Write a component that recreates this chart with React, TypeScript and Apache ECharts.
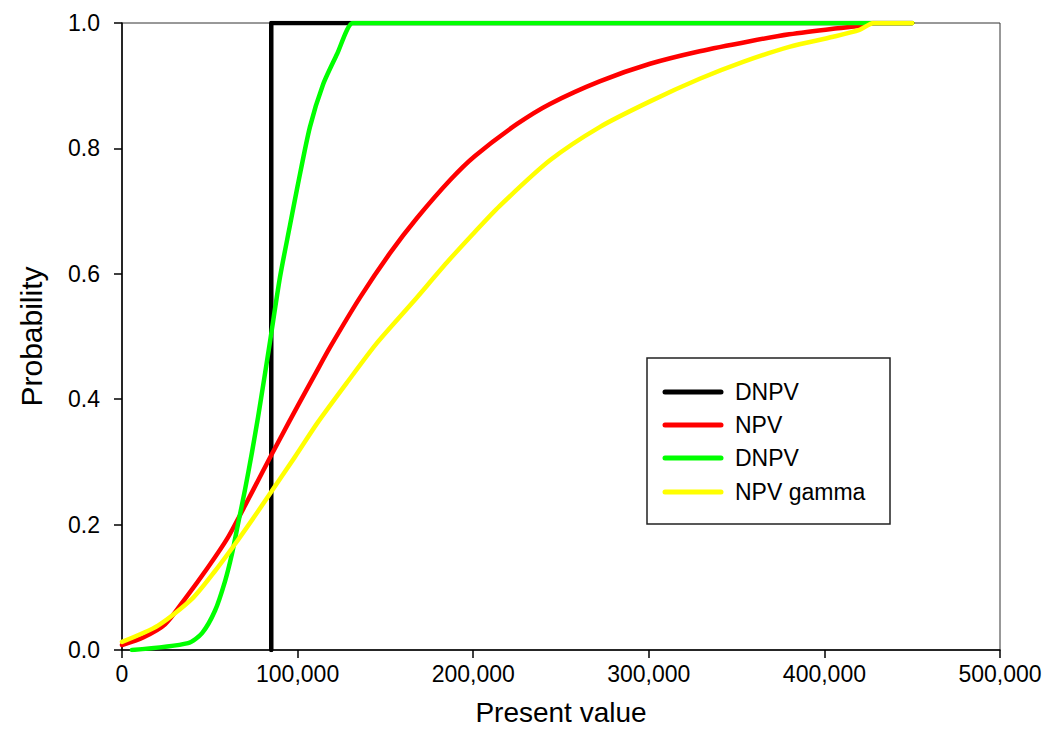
import React, { useEffect, useRef } from "react";
import * as echarts from "echarts";

const seriesNames = ["DNPV", "NPV", "DNPV", "NPV gamma"];
const seriesColors = ["#000000", "#FF0000", "#00FF00", "#FFFF00"];

const xTicks = [0, 100000, 200000, 300000, 400000, 500000];
const yTicks = [0, 0.2, 0.4, 0.6, 0.8, 1.0];

const dnpvBlack: [number, number][] = [
  [85000, 0], [85000, 1], [450000, 1],
];

const npvRed: [number, number][] = [
  [0, 0.008], [12000, 0.02], [24500, 0.041], [36000, 0.082], [49000, 0.132],
  [60000, 0.178], [70000, 0.23], [80000, 0.284], [90000, 0.337], [100000, 0.389],
  [110000, 0.44], [118500, 0.483], [135500, 0.562], [152600, 0.633], [168000, 0.689],
  [187000, 0.75], [201000, 0.788], [225000, 0.839], [243700, 0.871], [272000, 0.907],
  [300700, 0.935], [329000, 0.955], [357600, 0.971], [380000, 0.982], [405000, 0.991],
  [422000, 0.996], [428000, 1], [435000, 1], [450000, 1],
];

const dnpvGreen: [number, number][] = [
  [5700, 0], [37600, 0.011], [45600, 0.027], [53000, 0.063], [58700, 0.11],
  [62600, 0.153], [66000, 0.2], [70000, 0.255], [74000, 0.315], [77500, 0.372],
  [81000, 0.433], [84300, 0.492], [90000, 0.595], [95700, 0.678], [100000, 0.74],
  [107000, 0.834], [114500, 0.902], [122400, 0.95], [131500, 1], [138000, 1],
  [450000, 1],
];

const npvGamma: [number, number][] = [
  [0, 0.013], [20500, 0.039], [40000, 0.082], [53000, 0.126], [64400, 0.169],
  [75700, 0.214], [85400, 0.254], [98500, 0.308], [111000, 0.361], [128000, 0.426],
  [145000, 0.489], [165700, 0.555], [185000, 0.618], [200000, 0.664], [215000, 0.708],
  [243700, 0.781], [272000, 0.834], [300700, 0.875], [329000, 0.911], [353700, 0.938],
  [380000, 0.962], [405000, 0.978], [420000, 0.989], [428000, 1], [435000, 1],
  [450000, 1],
];

const allData = [dnpvBlack, npvRed, dnpvGreen, npvGamma];

const FONT = "'Liberation Sans', Arial, sans-serif";

export default function App() {
  const ref = useRef<HTMLDivElement>(null);
  useEffect(() => {
    if (!ref.current) return;
    document.body.style.margin = "0";
    const chart = echarts.init(ref.current, undefined, {
      renderer: "svg",
      width: 1063,
      height: 731,
    });

    const legendLeft = 647;
    const legendTop = 358;
    const rowYs = [392, 425, 458, 492];
    const legendGraphics: any[] = [
      {
        type: "rect",
        shape: { x: legendLeft, y: legendTop, width: 243, height: 166 },
        style: { fill: "#fff", stroke: "#222", lineWidth: 1.5 },
        z: 100,
      },
    ];
    seriesNames.forEach((name, i) => {
      legendGraphics.push({
        type: "line",
        shape: { x1: 665, y1: rowYs[i], x2: 721, y2: rowYs[i] },
        style: { stroke: seriesColors[i], lineWidth: 5, lineCap: "round" },
        z: 101,
      });
      legendGraphics.push({
        type: "text",
        x: 735,
        y: rowYs[i],
        style: {
          text: name,
          fill: "#000",
          font: `23px ${FONT}`,
          verticalAlign: "middle",
          align: "left",
        },
        z: 101,
      });
    });

    chart.setOption({
      animation: false,
      backgroundColor: "#fff",
      grid: {
        left: 122,
        right: 63,
        top: 23,
        bottom: 74,
        show: true,
        borderColor: "#333",
        borderWidth: 1,
        backgroundColor: "transparent",
      },
      xAxis: {
        type: "value",
        min: xTicks[0],
        max: xTicks[xTicks.length - 1],
        interval: 100000,
        name: "Present value",
        nameLocation: "middle",
        nameGap: 48,
        nameTextStyle: { fontSize: 28, color: "#000", fontFamily: FONT },
        axisLine: { show: true, onZero: false, lineStyle: { color: "#000", width: 1.5 } },
        axisTick: { show: true, inside: false, length: 8, lineStyle: { color: "#000", width: 1.5 } },
        axisLabel: {
          fontSize: 23,
          color: "#000",
          fontFamily: FONT,
          margin: 12,
          formatter: (v: number) => v.toLocaleString("en-US"),
        },
        splitLine: { show: false },
      },
      yAxis: {
        type: "value",
        min: yTicks[0],
        max: yTicks[yTicks.length - 1],
        interval: 0.2,
        name: "Probability",
        nameLocation: "middle",
        nameGap: 76,
        nameRotate: 90,
        nameTextStyle: { fontSize: 30, color: "#000", fontFamily: FONT },
        axisLine: { show: true, onZero: false, lineStyle: { color: "#000", width: 1.5 } },
        axisTick: { show: true, inside: false, length: 8, lineStyle: { color: "#000", width: 1.5 } },
        axisLabel: {
          fontSize: 23,
          color: "#000",
          fontFamily: FONT,
          margin: 22,
          formatter: (v: number) => v.toFixed(1),
        },
        splitLine: { show: false },
      },
      series: allData.map((d, i) => ({
        type: "line",
        name: seriesNames[i],
        data: d,
        showSymbol: false,
        symbol: "none",
        smooth: i === 0 ? false : 0.25,
        lineStyle: { color: seriesColors[i], width: 4.5, cap: "round", join: "round" },
        itemStyle: { color: seriesColors[i] },
        z: 2 + i,
      })),
      graphic: legendGraphics,
    });
    return () => chart.dispose();
  }, []);
  return (
    <div
      ref={ref}
      style={{ position: "fixed", left: 0, top: 0, width: 1063, height: 731 }}
    />
  );
}
